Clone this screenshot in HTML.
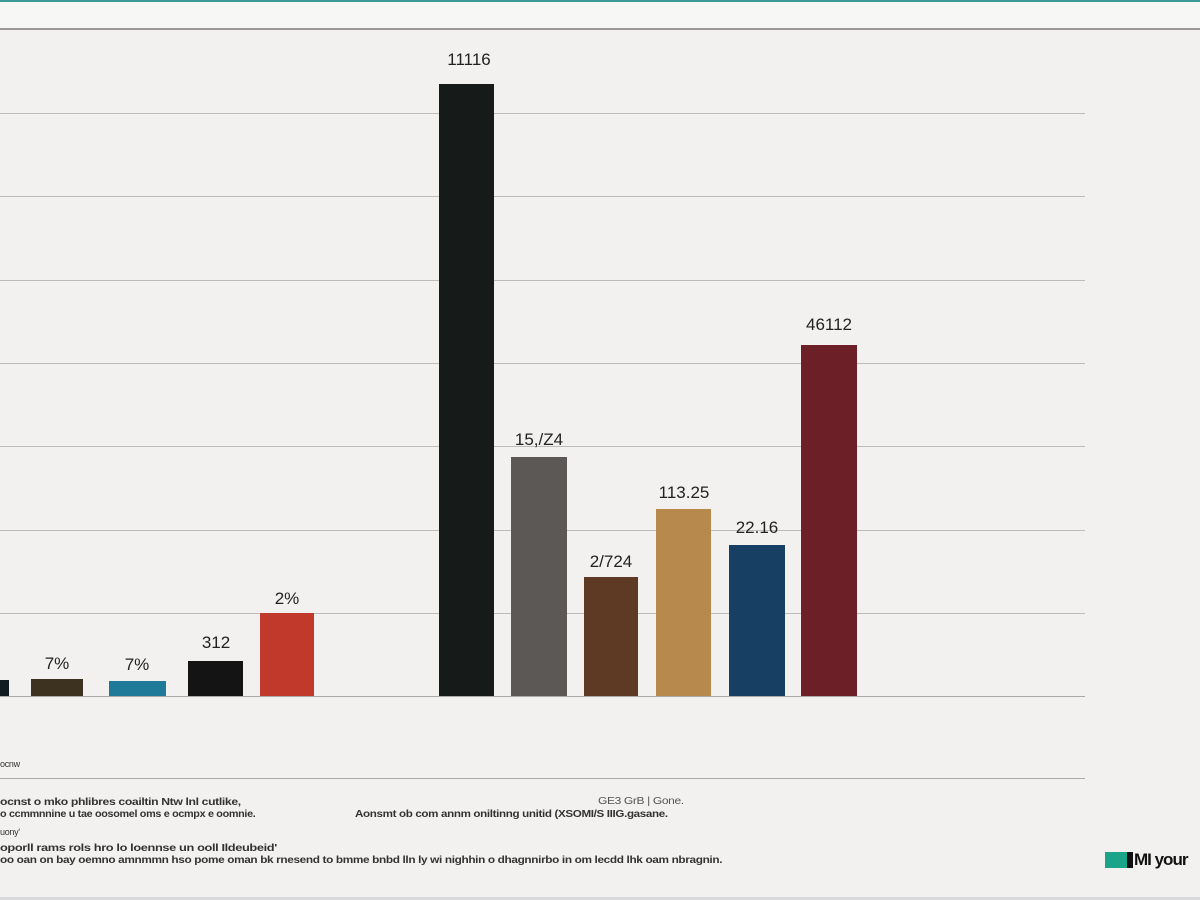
<!DOCTYPE html>
<html><head><meta charset="utf-8"><style>
body{margin:0;width:1200px;height:900px;background:#f2f1ef;position:relative;overflow:hidden;font-family:"Liberation Sans",sans-serif}
.g{position:absolute;left:0;width:1085px;height:1px;background:#bdbcbb}
.b{position:absolute}
.l{position:absolute;font-size:17px;color:#222;text-align:center;width:90px;margin-left:-45px}
.t{position:absolute;font-size:10px;color:#333;white-space:nowrap;font-weight:bold;letter-spacing:-0.3px;transform-origin:0 0}
</style></head><body>
<div style="position:absolute;left:0;top:0;width:1200px;height:2px;background:#3d9a9a"></div>
<div style="position:absolute;left:0;top:2px;width:1200px;height:27px;background:#f7f7f6"></div>
<div style="position:absolute;left:0;top:28px;width:1200px;height:2px;background:#9a9898"></div>
<div class="g" style="top:113px"></div><div class="g" style="top:196px"></div><div class="g" style="top:280px"></div><div class="g" style="top:363px"></div><div class="g" style="top:446px"></div><div class="g" style="top:530px"></div><div class="g" style="top:613px"></div><div class="g" style="top:696px;background:#a9a8a7"></div><div class="g" style="top:778px;background:#aaa"></div>
<div class="b" style="left:0;top:680px;width:9px;height:16px;background:#111c22"></div>
<div class="b" style="left:31px;top:679px;width:52px;height:17px;background:#3d3220"></div>
<div class="b" style="left:109px;top:681px;width:57px;height:15px;background:#1f7a99"></div>
<div class="b" style="left:188px;top:661px;width:55px;height:35px;background:#141414"></div>
<div class="b" style="left:260px;top:613px;width:54px;height:83px;background:#c0392b"></div>
<div class="b" style="left:439px;top:84px;width:55px;height:612px;background:#161a19"></div>
<div class="b" style="left:511px;top:457px;width:56px;height:239px;background:#5b5856"></div>
<div class="b" style="left:584px;top:577px;width:54px;height:119px;background:#5e3a24"></div>
<div class="b" style="left:656px;top:509px;width:55px;height:187px;background:#b8894c"></div>
<div class="b" style="left:729px;top:545px;width:56px;height:151px;background:#163f63"></div>
<div class="b" style="left:801px;top:345px;width:56px;height:351px;background:#6c1f27"></div>
<div class="l" style="left:57px;top:654px">7%</div>
<div class="l" style="left:137px;top:655px">7%</div>
<div class="l" style="left:216px;top:633px">312</div>
<div class="l" style="left:287px;top:589px">2%</div>
<div class="l" style="left:469px;top:50px">11116</div>
<div class="l" style="left:539px;top:430px">15,/Z4</div>
<div class="l" style="left:611px;top:552px">2/724</div>
<div class="l" style="left:684px;top:483px">113.25</div>
<div class="l" style="left:757px;top:518px">22.16</div>
<div class="l" style="left:829px;top:315px">46112</div>
<div class="t" style="left:0;top:759px;font-weight:normal;font-size:9px">ocnw</div>
<div class="t" style="left:0;top:797px;transform:scaleX(1.22)">ocnst o mko phlibres coailtin Ntw lnl cutlike,</div>
<div class="t" style="left:0;top:809px;transform:scaleX(1.08)">o ccmmnnine u tae oosomel oms e ocmpx e oomnie.</div>
<div class="t" style="left:0;top:827px;font-weight:normal;font-size:9px">uony'</div>
<div class="t" style="left:0;top:843px;transform:scaleX(1.28)">oporll rams rols hro lo loennse un ooll Ildeubeid'</div>
<div class="t" style="left:0;top:855px;transform:scaleX(1.18)">oo oan on bay oemno amnmmn hso pome oman bk rnesend to bmme bnbd lln ly wi nighhin o dhagnnirbo in om lecdd lhk oam nbragnin.</div>
<div class="t" style="left:598px;top:796px;font-weight:normal;color:#555;transform:scaleX(1.2)">GE3 GrB | Gone.</div>
<div class="t" style="left:355px;top:809px;transform:scaleX(1.16)">Aonsmt ob com annm oniltinng unitid (XSOMI/S IIIG.gasane.</div>
<div style="position:absolute;left:1105px;top:852px;width:22px;height:16px;background:#1aa58a"></div>
<div style="position:absolute;left:1127px;top:852px;width:6px;height:16px;background:#111"></div>
<div style="position:absolute;left:1134px;top:850px;font-size:17px;font-weight:bold;color:#111;letter-spacing:-1px">MI your</div>
<div style="position:absolute;left:0;top:897px;width:1200px;height:3px;background:#d8d8da"></div>
</body></html>
